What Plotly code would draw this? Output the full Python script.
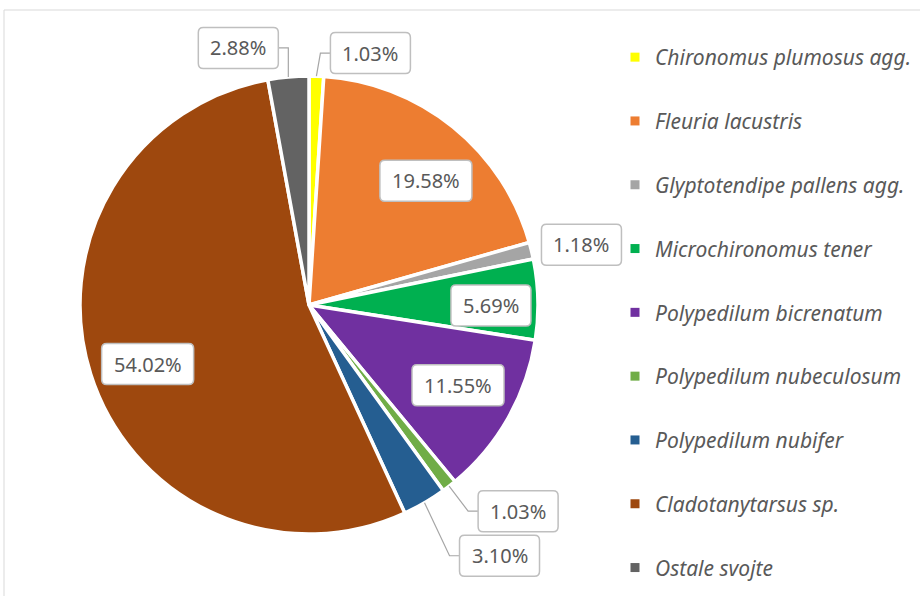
import math
import plotly.graph_objects as go

# ---------------- data ----------------
species = [
    "Chironomus plumosus agg.",
    "Fleuria lacustris",
    "Glyptotendipe pallens agg.",
    "Microchironomus tener",
    "Polypedilum bicrenatum",
    "Polypedilum nubeculosum",
    "Polypedilum nubifer",
    "Cladotanytarsus sp.",
    "Ostale svojte",
]
percent = [1.03, 19.58, 1.18, 5.69, 11.55, 1.03, 3.10, 54.02, 2.88]
colors = ["#FFFF00", "#ED7D31", "#A5A5A5", "#00B050", "#7030A0",
          "#70AD47", "#255E91", "#9E480E", "#636363"]

# label box offsets (pixels) from the slice's mid-angle edge point, and leader flag
label_offset = [(54, -23), (-27, 54), (50, -6), (-47, 6), (-50, -33),
                (69, 25), (75, 53), (57, -10), (-50, -29)]
leader = [True, False, False, False, False, True, True, False, True]

# ---------------- layout geometry ----------------
W, H = 920, 596
CX, CY, R = 309, 305, 229


def px(x):
    return x / W


def py(y):
    return 1 - y / H


fig = go.Figure()
fig.add_trace(go.Pie(
    labels=species, values=percent, sort=False, direction="clockwise",
    rotation=0, textinfo="none", hoverinfo="label+percent",
    marker=dict(colors=colors, line=dict(color="white", width=3.5)),
    domain=dict(x=[px(CX - R), px(CX + R)], y=[py(CY + R), py(CY - R)]),
    showlegend=False,
))

# legend entries (one group each so gaps can match the reference)
for name, col in zip(species, colors):
    fig.add_trace(go.Scatter(
        x=[None], y=[None], mode="markers", name=name, legendgroup=name,
        marker=dict(symbol="square", size=9, color=col),
    ))

shapes = []
annotations = []
total = sum(percent)
cum = 0.0
grey_line = "#A6A6A6"
box_line = "#BFBFBF"


def rounded_rect(x0, y0, x1, y1, r=5):
    pts = [
        f"M {px(x0 + r)},{py(y0)}",
        f"L {px(x1 - r)},{py(y0)}",
        f"Q {px(x1)},{py(y0)} {px(x1)},{py(y0 + r)}",
        f"L {px(x1)},{py(y1 - r)}",
        f"Q {px(x1)},{py(y1)} {px(x1 - r)},{py(y1)}",
        f"L {px(x0 + r)},{py(y1)}",
        f"Q {px(x0)},{py(y1)} {px(x0)},{py(y1 - r)}",
        f"L {px(x0)},{py(y0 + r)}",
        f"Q {px(x0)},{py(y0)} {px(x0 + r)},{py(y0)}",
        "Z",
    ]
    return " ".join(pts)


for i, v in enumerate(percent):
    mid = (cum + v / 2) / total * 2 * math.pi
    cum += v
    ax = CX + R * math.sin(mid)
    ay = CY - R * math.cos(mid)
    dx, dy = label_offset[i]
    bx, by = ax + dx, ay + dy
    text = f"{v:.2f}%"
    bw = 80 if len(text) <= 5 else 92
    bh = 41
    x0, x1 = bx - bw / 2, bx + bw / 2
    y0, y1 = by - bh / 2, by + bh / 2
    if leader[i]:
        edge = x0 if bx > ax else x1
        elbow = edge - 10 if bx > ax else edge + 10
        shapes.append(dict(
            type="path", xref="paper", yref="paper", layer="above",
            path=f"M {px(ax)},{py(ay)} L {px(elbow)},{py(by)} L {px(edge)},{py(by)}",
            line=dict(color=grey_line, width=1.2),
        ))
    shapes.append(dict(
        type="path", xref="paper", yref="paper", layer="above",
        path=rounded_rect(x0, y0, x1, y1),
        fillcolor="white", line=dict(color=box_line, width=1.5),
    ))
    annotations.append(dict(
        x=px(bx), y=py(by), xref="paper", yref="paper", text=text,
        showarrow=False, xanchor="center", yanchor="middle",
        font=dict(family="Noto Sans", size=20, color="#595959"),
    ))

# outer chart border (extends past the window on right/bottom)
shapes.insert(0, dict(
    type="rect", xref="paper", yref="paper", layer="below",
    x0=px(4), y0=py(10), x1=1.05, y1=-0.05,
    line=dict(color="#D9D9D9", width=1), fillcolor="rgba(0,0,0,0)",
))

fig.update_layout(
    width=W, height=H,
    margin=dict(l=0, r=0, t=0, b=0),
    paper_bgcolor="white", plot_bgcolor="white",
    xaxis=dict(visible=False), yaxis=dict(visible=False),
    shapes=shapes, annotations=annotations,
    legend=dict(
        x=px(615), y=py(37), xanchor="left", yanchor="top",
        traceorder="grouped", tracegroupgap=33.5,
        font=dict(family="Noto Sans", size=21, color="#595959", style="italic"),
        bgcolor="rgba(0,0,0,0)",
    ),
    showlegend=True,
)

fig.write_html("out.html", config={"displayModeBar": False},
               post_script="document.body.style.margin='0';")
